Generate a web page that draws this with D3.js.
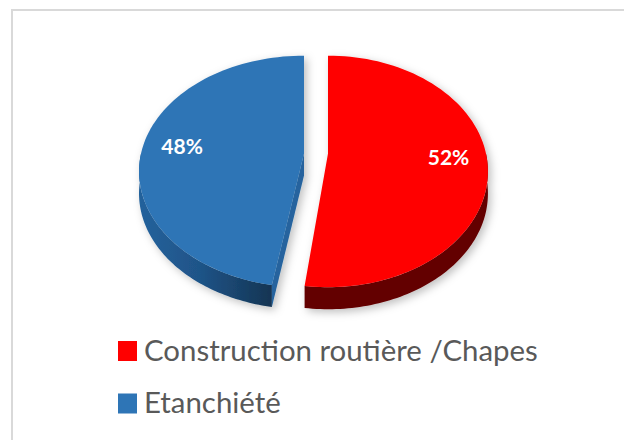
<!DOCTYPE html>
<html lang="fr">
<head>
<meta charset="UTF-8">
<title>Répartition</title>
<script src="https://d3js.org/d3.v7.min.js"></script>
<style>
  html, body { margin: 0; padding: 0; background: #fff; }
  svg { display: block; }
  text { font-family: Lato, "Open Sans", sans-serif; }
</style>
</head>
<body>
<div id="chart"></div>
<script>
// data
var categories = ["Construction routière /Chapes", "Etanchiété"];
var values = [52, 48];
var labels = ["52%", "48%"];
var topColors = ["#ff0000", "#2e75b6"];

var width = 624, height = 440;

var svg = d3.select("#chart").append("svg")
  .attr("width", width)
  .attr("height", height);

var defs = svg.append("defs");

// soft shadow under the pie
var blur = defs.append("filter").attr("id", "shadow")
  .attr("x", "-20%").attr("y", "-20%").attr("width", "140%").attr("height", "140%");
blur.append("feDropShadow")
  .attr("dx", 3).attr("dy", 3)
  .attr("stdDeviation", 4)
  .attr("flood-color", "#000")
  .attr("flood-opacity", 0.25);

// side of the blue slice gets darker toward the front
var grad = defs.append("linearGradient").attr("id", "blueSide")
  .attr("gradientUnits", "userSpaceOnUse")
  .attr("x1", 139).attr("x2", 273).attr("y1", 0).attr("y2", 0);
grad.append("stop").attr("offset", 0).attr("stop-color", "#24629c");
grad.append("stop").attr("offset", 0.45).attr("stop-color", "#1f5488");
grad.append("stop").attr("offset", 1).attr("stop-color", "#143452");

// chart frame: only top and left show in the crop
svg.append("path")
  .attr("d", "M12,440V10H624")
  .attr("fill", "none")
  .attr("stroke", "#d9d9d9")
  .attr("stroke-width", 2);

// pie angles, clockwise from the top
var pie = d3.pie().sort(null)(values);

// tilted disc with a bit of perspective: the apex sits above the middle of the ellipse
var apexY = 153.5, radiusX = [158, 163], radiusY = 113, persp = 0.155, depth = 22;
var offsets = [328, 304];
var angleNudge = [0, 0.042]; // blue cut leans a little more than red in the reference

function project(a, r, i) {
  var w = 1 + persp * Math.cos(a) * r;
  return [
    offsets[i] + radiusX[i] * r * Math.sin(a) / w,
    apexY - radiusY * r * Math.cos(a) / w
  ];
}

function rim(a0, a1, i, dy) {
  return d3.range(0, 81).map(function(k) {
    var p = project(a0 + (a1 - a0) * k / 80, 1, i);
    return [p[0], p[1] + dy];
  });
}

var line = d3.line();
var pieG = svg.append("g").attr("filter", "url(#shadow)");

pie.forEach(function(d, i) {
  var g = pieG.append("g");
  var a0 = d.startAngle + angleNudge[i], a1 = d.endAngle;
  var apex = project(0, 0, i);

  // outer wall, only the part that faces the viewer
  var from = Math.max(a0, Math.PI / 2), to = Math.min(a1, Math.PI * 1.5);
  var wall = rim(from, to, i, 0).concat(rim(from, to, i, depth).reverse());
  g.append("path")
    .attr("d", line(wall) + "Z")
    .attr("fill", i === 0 ? "#640000" : "url(#blueSide)");

  // cut face of the blue slice, seen through the gap
  if (i === 1) {
    var c = project(a0, 1, i);
    g.append("path")
      .attr("d", line([apex, c, [c[0], c[1] + depth], [apex[0], apex[1] + depth]]) + "Z")
      .attr("fill", "#25649e");
  }

  // top face
  g.append("path")
    .attr("d", line([apex].concat(rim(a0, a1, i, 0))) + "Z")
    .attr("fill", topColors[i]);
});

// value labels
var labelPos = [[0.76, 1.61], [0.76, 4.81]];
svg.selectAll(".val").data(labels).enter().append("text")
  .attr("class", "val")
  .attr("x", function(d, i) { return project(labelPos[i][1], labelPos[i][0], i)[0]; })
  .attr("y", function(d, i) { return project(labelPos[i][1], labelPos[i][0], i)[1]; })
  .attr("text-anchor", "middle")
  .attr("dominant-baseline", "central")
  .attr("fill", "#fff")
  .attr("font-weight", 700)
  .attr("font-size", 21)
  .text(function(d) { return d; });

// legend
var legendY = d3.scalePoint().domain(categories).range([351, 403.5]);
var legend = svg.selectAll(".leg").data(categories).enter().append("g")
  .attr("class", "leg")
  .attr("transform", function(d) { return "translate(118," + legendY(d) + ")"; });

legend.append("rect")
  .attr("y", -10)
  .attr("width", 19).attr("height", 20)
  .attr("fill", function(d, i) { return topColors[i]; });

legend.append("text")
  .attr("x", 26).attr("y", 9.5)
  .attr("fill", "#595959")
  .attr("font-size", 29.4)
  .text(function(d) { return d; });
</script>
</body>
</html>
